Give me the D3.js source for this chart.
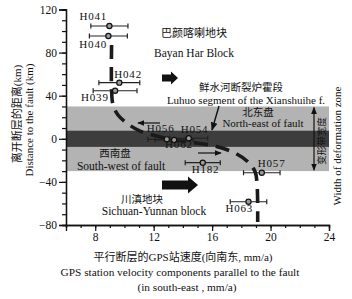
<!DOCTYPE html>
<html>
<head>
<meta charset="utf-8">
<script src="https://cdn.jsdelivr.net/npm/d3@7"></script>
<style>
body { margin:0; background:#fff; }
text { font-family: "Liberation Serif", "Noto Sans CJK SC", serif; fill:#111; }
</style>
</head>
<body>
<div class="graph"></div>
<script>
// stations: name, velocity (mm/a), distance (km), error (mm/a)
let stations = ['H041', 'H040', 'H042', 'H039', 'H056', 'H062', 'H054', 'H182', 'H057', 'H063']
let velocity = [8.97, 8.9, 9.65, 9.36, 12.9, 13.4, 14.4, 15.36, 19.4, 18.49]
let distance = [104.7, 95.4, 52.1, 44.6, -0.5, -1.0, 0.5, -22.2, -31.5, -58.4]
let velErr = [1.27, 1.3, 1.4, 1.5, 1.3, 1.3, 1.3, 1.2, 1.25, 1.25]

// model profile
let curveVel = [9.12, 9.12, 9.22, 9.56, 10.25, 11.07, 12.78, 14.5, 16.2, 17.58, 18.47, 18.95, 19.08, 19.12]
let curveDist = [87, 45.3, 31.4, 22.1, 13.7, 7.2, 0.7, -3, -6.8, -13.3, -21.6, -30.8, -42.9, -77.3]

// zones
let outerZone = [-30, 30]
let innerZone = [-7.5, 7.5]

let xMajor = [8, 12, 16, 20, 24]
let yMajor = [-80, -40, 0, 40, 80, 120]

let svgWidth = 352
let svgHeight = 299

let svg = d3.select('.graph')
    .append('svg')
    .attr('width', svgWidth)
    .attr('height', svgHeight)

let xScale = d3.scaleLinear().domain([6, 24]).range([66, 329])
let yScale = d3.scaleLinear().domain([-80, 120]).range([225, 9.5])

// deformation bands
svg.append('rect')
    .attr('x', xScale(6)).attr('width', xScale(24) - xScale(6))
    .attr('y', yScale(outerZone[1])).attr('height', yScale(outerZone[0]) - yScale(outerZone[1]))
    .attr('fill', '#b3b3b3')
svg.append('rect')
    .attr('x', xScale(6)).attr('width', xScale(24) - xScale(6))
    .attr('y', yScale(innerZone[1])).attr('height', yScale(innerZone[0]) - yScale(innerZone[1]))
    .attr('fill', '#3d3d3d')

// axes
let xAxisMinor = d3.axisBottom(xScale).tickValues(d3.range(6, 25)).tickSize(3).tickFormat('')
let xAxis = d3.axisBottom(xScale).tickValues(xMajor).tickSize(6).tickPadding(2)
let yAxisMinor = d3.axisLeft(yScale).tickValues(d3.range(-80, 121, 10)).tickSize(4).tickFormat('')
let yAxis = d3.axisLeft(yScale).tickValues(yMajor).tickSize(7).tickPadding(2)

svg.append('g').attr('transform', `translate(0,${yScale(-80)})`).call(xAxisMinor)
svg.append('g').attr('transform', `translate(0,${yScale(-80)})`).call(xAxis)
svg.append('g').attr('transform', `translate(${xScale(6)},0)`).call(yAxisMinor)
svg.append('g').attr('transform', `translate(${xScale(6)},0)`).call(yAxis)

svg.selectAll('.domain').attr('stroke', '#111').attr('stroke-width', 1.3)
svg.selectAll('.tick line').attr('stroke', '#111').attr('stroke-width', 1.2)
svg.selectAll('.tick text')
    .style('font-family', '"Liberation Serif", serif')
    .style('font-size', '11.5px')
    .attr('fill', '#111')

// dashed model curve
let curvePts = curveVel.map((v, i) => ({v: v, d: curveDist[i]}))
let valueLine = d3.line()
    .x(d => xScale(d.v))
    .y(d => yScale(d.d))
    .curve(d3.curveCatmullRom)
svg.append('path')
    .attr('d', valueLine(curvePts))
    .attr('fill', 'none')
    .attr('stroke', '#1a1a1a')
    .attr('stroke-width', 3.6)
    .attr('stroke-dasharray', '14,8')

// error bars
let pts = stations.map((s, i) => ({name: s, v: velocity[i], d: distance[i], e: velErr[i]}))
let bars = svg.append('g').attr('stroke', '#222').attr('stroke-width', 1.2)
pts.forEach(p => {
    let yy = yScale(p.d)
    bars.append('line').attr('x1', xScale(p.v - p.e)).attr('x2', xScale(p.v + p.e)).attr('y1', yy).attr('y2', yy)
    bars.append('line').attr('x1', xScale(p.v - p.e)).attr('x2', xScale(p.v - p.e)).attr('y1', yy - 2.5).attr('y2', yy + 2.5)
    bars.append('line').attr('x1', xScale(p.v + p.e)).attr('x2', xScale(p.v + p.e)).attr('y1', yy - 2.5).attr('y2', yy + 2.5)
})
svg.selectAll('.pt')
    .data(pts)
    .enter()
    .append('circle')
    .attr('cx', d => xScale(d.v))
    .attr('cy', d => yScale(d.d))
    .attr('r', 2.6)
    .attr('fill', '#9a9a9a')
    .attr('stroke', '#111')
    .attr('stroke-width', 1.2)

// station labels (pixel offsets from point)
let labelOffset = {
    H041: [-30, -6], H040: [-29, 12], H042: [-5, -5], H039: [-34, 10],
    H056: [-20, -7], H062: [-9, 8], H054: [-8, -5], H182: [-11, 10],
    H057: [-4, -6], H063: [-23, 10]
}
svg.selectAll('.lab')
    .data(pts)
    .enter()
    .append('text')
    .attr('x', d => xScale(d.v) + labelOffset[d.name][0])
    .attr('y', d => yScale(d.d) + labelOffset[d.name][1])
    .style('font-size', '11px')
    .style('letter-spacing', '0.8px')
    .attr('fill', '#222')
    .text(d => d.name)

// block arrows
function blockArrow(x0, x1, cy, body, head, headLen) {
    let p = [[x0, cy - body / 2], [x1 - headLen, cy - body / 2], [x1 - headLen, cy - head / 2], [x1, cy],
        [x1 - headLen, cy + head / 2], [x1 - headLen, cy + body / 2], [x0, cy + body / 2]]
    svg.append('path').attr('d', 'M' + p.join('L') + 'Z').attr('fill', '#111')
}
blockArrow(162, 178, 78, 7, 13, 7)
blockArrow(162, 198, 185, 9, 17, 10)

// thin motion arrows
svg.append('defs').append('marker')
    .attr('id', 'head').attr('viewBox', '0 0 10 10').attr('refX', 9).attr('refY', 5)
    .attr('markerWidth', 6).attr('markerHeight', 6).attr('orient', 'auto')
    .append('path').attr('d', 'M0,1L10,5L0,9Z').attr('fill', '#111')
svg.append('line').attr('x1', 160).attr('y1', 123).attr('x2', 138).attr('y2', 123)
    .attr('stroke', '#111').attr('stroke-width', 1.2).attr('marker-end', 'url(#head)')
svg.append('line').attr('x1', 198).attr('y1', 153).attr('x2', 221).attr('y2', 153)
    .attr('stroke', '#111').attr('stroke-width', 1.2).attr('marker-end', 'url(#head)')
// pointer to fault
svg.append('line').attr('x1', 219).attr('y1', 106).attr('x2', 212).attr('y2', 130)
    .attr('stroke', '#111').attr('stroke-width', 1.4).attr('marker-end', 'url(#head)')
// deformation width double arrow
svg.append('line').attr('x1', 314).attr('y1', yScale(0)).attr('x2', 314).attr('y2', yScale(outerZone[1]) + 1)
    .attr('stroke', '#111').attr('stroke-width', 1.2).attr('marker-end', 'url(#head)')
svg.append('line').attr('x1', 314).attr('y1', yScale(0)).attr('x2', 314).attr('y2', yScale(outerZone[0]) - 1)
    .attr('stroke', '#111').attr('stroke-width', 1.2).attr('marker-end', 'url(#head)')

// annotations
function note(txt, x, y, size, color, anchor) {
    svg.append('text').attr('x', x).attr('y', y)
        .attr('text-anchor', anchor || 'middle')
        .style('font-size', size + 'px')
        .attr('fill', color || '#111')
        .text(txt)
}
note('巴颜喀喇地块', 194, 37, 11, '#222')
note('Bayan Har Block', 194, 57, 11.5)
note('鲜水河断裂炉霍段', 241, 91, 10.5, '#333')
note('Luhuo segment of the Xianshuihe f.', 246, 104, 11)
note('北东盘', 258, 116, 10.5, '#666')
note('North-east of fault', 263, 127, 11)
note('西南盘', 115, 157, 10.5, '#666')
note('South-west of fault', 121, 170, 11.5)
note('川滇地块', 142, 203, 10.5, '#333')
note('Sichuan-Yunnan block', 154, 215, 11.5)

svg.append('text').attr('transform', 'translate(325,141) rotate(-90)')
    .attr('text-anchor', 'middle').style('font-size', '9.5px').attr('fill', '#555')
    .text('变形带宽度')
svg.append('text').attr('transform', 'translate(341,146) rotate(-90)')
    .attr('text-anchor', 'middle').style('font-size', '11px')
    .text('Width of deformation zone')

// axis titles
note('平行断层的GPS站速度(向南东, mm/a)', 183, 261, 11, '#222')
note('GPS station velocity components parallel to the fault', 180, 276, 11.3)
note('(in south-east , mm/a)', 187, 291, 11.3)

svg.append('text').attr('transform', 'translate(21,114) rotate(-90)')
    .attr('text-anchor', 'middle').style('font-size', '11px').attr('fill', '#222')
    .text('离开断层的距离(km)')
svg.append('text').attr('transform', 'translate(33,120) rotate(-90)')
    .attr('text-anchor', 'middle').style('font-size', '11px')
    .text('Distance to the fault (km)')
</script>
</body>
</html>
